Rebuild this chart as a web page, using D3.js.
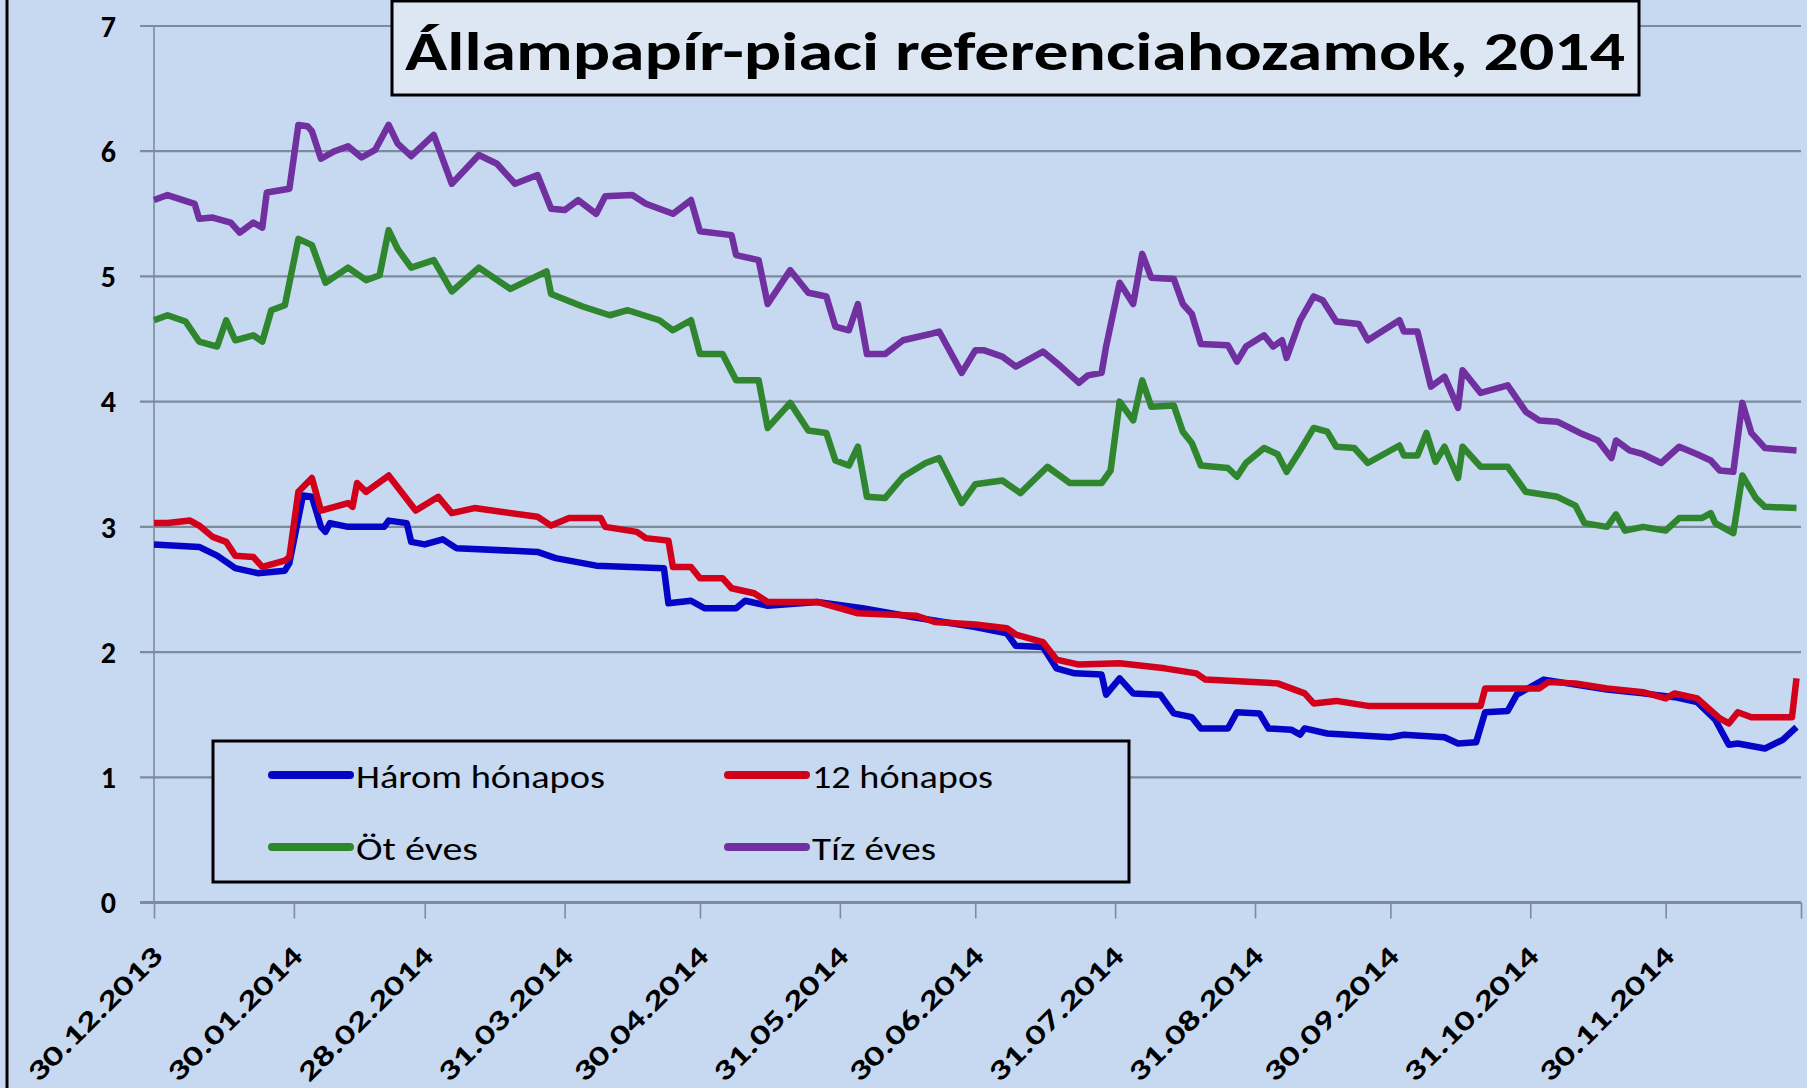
<!DOCTYPE html>
<html>
<head>
<meta charset="utf-8">
<script src="https://cdn.jsdelivr.net/npm/d3@7"></script>
<style>
  body { margin: 0; background: #c6d9f1; }
  svg { display: block; font-family: Carlito, Calibri, Lato, sans-serif; }
</style>
</head>
<body>
<div id="chart"></div>
<script>
// cím, sorozatok, tengely
const chartTitle = 'Állampapír-piaci referenciahozamok, 2014';
const seriesNames = ['Három hónapos', '12 hónapos', 'Öt éves', 'Tíz éves'];
const seriesColors = ['#0505c8', '#d2001a', '#2f862f', '#7030a0'];
const yTicks = [0, 1, 2, 3, 4, 5, 6, 7];
const tickDates = ['2013-12-30', '2014-01-30', '2014-02-28', '2014-03-31', '2014-04-30', '2014-05-31',
  '2014-06-30', '2014-07-31', '2014-08-31', '2014-09-30', '2014-10-31', '2014-11-30', '2014-12-30'];

const haromHonapos = [
  ['2013-12-30', 2.86], ['2014-01-09', 2.84], ['2014-01-13', 2.77], ['2014-01-17', 2.67], ['2014-01-22', 2.63],
  ['2014-01-28', 2.65], ['2014-01-29', 2.71], ['2014-02-01', 3.25], ['2014-02-03', 3.24], ['2014-02-05', 3.00],
  ['2014-02-06', 2.96], ['2014-02-07', 3.03], ['2014-02-11', 3.00], ['2014-02-19', 3.00], ['2014-02-20', 3.05],
  ['2014-02-24', 3.03], ['2014-02-25', 2.88], ['2014-02-28', 2.86], ['2014-03-04', 2.90], ['2014-03-07', 2.83],
  ['2014-03-25', 2.80], ['2014-03-29', 2.75], ['2014-04-07', 2.69], ['2014-04-22', 2.67], ['2014-04-23', 2.39],
  ['2014-04-28', 2.41], ['2014-05-01', 2.35], ['2014-05-08', 2.35], ['2014-05-10', 2.41], ['2014-05-15', 2.37],
  ['2014-05-26', 2.40], ['2014-06-05', 2.35], ['2014-06-16', 2.28], ['2014-06-30', 2.20], ['2014-07-07', 2.15],
  ['2014-07-09', 2.05], ['2014-07-15', 2.04], ['2014-07-18', 1.87], ['2014-07-22', 1.83], ['2014-07-28', 1.82],
  ['2014-07-29', 1.66], ['2014-08-01', 1.79], ['2014-08-04', 1.67], ['2014-08-10', 1.66], ['2014-08-13', 1.51],
  ['2014-08-17', 1.48], ['2014-08-19', 1.39], ['2014-08-25', 1.39], ['2014-08-27', 1.52], ['2014-09-01', 1.51],
  ['2014-09-03', 1.39], ['2014-09-08', 1.38], ['2014-09-10', 1.34], ['2014-09-11', 1.39], ['2014-09-16', 1.35],
  ['2014-09-30', 1.32], ['2014-10-03', 1.34], ['2014-10-12', 1.32], ['2014-10-15', 1.27], ['2014-10-19', 1.28],
  ['2014-10-21', 1.52], ['2014-10-26', 1.53], ['2014-10-28', 1.66], ['2014-11-03', 1.78], ['2014-11-10', 1.74],
  ['2014-11-17', 1.70], ['2014-11-25', 1.67], ['2014-12-02', 1.64], ['2014-12-07', 1.60], ['2014-12-11', 1.46],
  ['2014-12-14', 1.26], ['2014-12-16', 1.27], ['2014-12-22', 1.23], ['2014-12-26', 1.30], ['2014-12-29', 1.40]
];

const tizenketHonapos = [
  ['2013-12-30', 3.03], ['2014-01-02', 3.03], ['2014-01-07', 3.05], ['2014-01-09', 3.01], ['2014-01-12', 2.92],
  ['2014-01-15', 2.88], ['2014-01-17', 2.77], ['2014-01-21', 2.76], ['2014-01-23', 2.68], ['2014-01-28', 2.73],
  ['2014-01-29', 2.76], ['2014-01-31', 3.28], ['2014-02-03', 3.39], ['2014-02-05', 3.13], ['2014-02-11', 3.19],
  ['2014-02-12', 3.16], ['2014-02-13', 3.35], ['2014-02-15', 3.28], ['2014-02-20', 3.41], ['2014-02-26', 3.13],
  ['2014-03-03', 3.24], ['2014-03-06', 3.11], ['2014-03-11', 3.15], ['2014-03-25', 3.08], ['2014-03-28', 3.01],
  ['2014-04-01', 3.07], ['2014-04-08', 3.07], ['2014-04-09', 3.00], ['2014-04-16', 2.96], ['2014-04-18', 2.91],
  ['2014-04-23', 2.89], ['2014-04-24', 2.68], ['2014-04-28', 2.68], ['2014-04-30', 2.59], ['2014-05-05', 2.59],
  ['2014-05-07', 2.51], ['2014-05-12', 2.47], ['2014-05-15', 2.40], ['2014-05-26', 2.40], ['2014-06-04', 2.31],
  ['2014-06-17', 2.29], ['2014-06-21', 2.24], ['2014-06-30', 2.22], ['2014-07-07', 2.19], ['2014-07-09', 2.14],
  ['2014-07-15', 2.08], ['2014-07-18', 1.94], ['2014-07-23', 1.90], ['2014-08-01', 1.91], ['2014-08-11', 1.87],
  ['2014-08-18', 1.83], ['2014-08-20', 1.78], ['2014-09-05', 1.75], ['2014-09-11', 1.67], ['2014-09-13', 1.59],
  ['2014-09-18', 1.61], ['2014-09-25', 1.57], ['2014-10-20', 1.57], ['2014-10-21', 1.71], ['2014-11-02', 1.71],
  ['2014-11-04', 1.76], ['2014-11-10', 1.75], ['2014-11-17', 1.71], ['2014-11-25', 1.68], ['2014-11-30', 1.63],
  ['2014-12-02', 1.67], ['2014-12-07', 1.63], ['2014-12-12', 1.47], ['2014-12-14', 1.43], ['2014-12-16', 1.52],
  ['2014-12-19', 1.48], ['2014-12-28', 1.48], ['2014-12-29', 1.79]
];

const otEves = [
  ['2013-12-30', 4.65], ['2014-01-02', 4.69], ['2014-01-06', 4.64], ['2014-01-09', 4.48], ['2014-01-13', 4.44],
  ['2014-01-15', 4.65], ['2014-01-17', 4.49], ['2014-01-21', 4.53], ['2014-01-23', 4.48], ['2014-01-25', 4.73],
  ['2014-01-28', 4.77], ['2014-01-31', 5.30], ['2014-02-03', 5.25], ['2014-02-06', 4.95], ['2014-02-11', 5.07],
  ['2014-02-15', 4.97], ['2014-02-18', 5.01], ['2014-02-20', 5.37], ['2014-02-22', 5.22], ['2014-02-25', 5.07],
  ['2014-03-02', 5.13], ['2014-03-06', 4.88], ['2014-03-12', 5.07], ['2014-03-19', 4.90], ['2014-03-27', 5.04],
  ['2014-03-28', 4.86], ['2014-04-04', 4.76], ['2014-04-10', 4.69], ['2014-04-14', 4.73], ['2014-04-21', 4.65],
  ['2014-04-24', 4.57], ['2014-04-28', 4.65], ['2014-04-30', 4.38], ['2014-05-05', 4.38], ['2014-05-08', 4.17],
  ['2014-05-13', 4.17], ['2014-05-15', 3.79], ['2014-05-20', 3.99], ['2014-05-24', 3.77], ['2014-05-28', 3.75],
  ['2014-05-30', 3.53], ['2014-06-02', 3.49], ['2014-06-04', 3.64], ['2014-06-06', 3.24], ['2014-06-10', 3.23],
  ['2014-06-14', 3.40], ['2014-06-19', 3.51], ['2014-06-22', 3.55], ['2014-06-27', 3.19], ['2014-06-30', 3.34],
  ['2014-07-06', 3.37], ['2014-07-10', 3.27], ['2014-07-16', 3.48], ['2014-07-21', 3.35], ['2014-07-28', 3.35],
  ['2014-07-30', 3.45], ['2014-08-01', 4.00], ['2014-08-04', 3.85], ['2014-08-06', 4.17], ['2014-08-08', 3.96],
  ['2014-08-13', 3.97], ['2014-08-15', 3.76], ['2014-08-17', 3.67], ['2014-08-19', 3.49], ['2014-08-25', 3.47],
  ['2014-08-27', 3.40], ['2014-08-29', 3.51], ['2014-09-02', 3.63], ['2014-09-05', 3.58], ['2014-09-07', 3.44],
  ['2014-09-10', 3.61], ['2014-09-13', 3.79], ['2014-09-16', 3.76], ['2014-09-18', 3.64], ['2014-09-22', 3.63],
  ['2014-09-25', 3.51], ['2014-10-02', 3.65], ['2014-10-03', 3.57], ['2014-10-06', 3.57], ['2014-10-08', 3.75],
  ['2014-10-10', 3.52], ['2014-10-12', 3.64], ['2014-10-15', 3.39], ['2014-10-16', 3.64], ['2014-10-20', 3.48],
  ['2014-10-26', 3.48], ['2014-10-30', 3.28], ['2014-11-06', 3.24], ['2014-11-10', 3.17], ['2014-11-12', 3.03],
  ['2014-11-17', 3.00], ['2014-11-19', 3.10], ['2014-11-21', 2.97], ['2014-11-25', 3.00], ['2014-11-30', 2.97],
  ['2014-12-03', 3.07], ['2014-12-08', 3.07], ['2014-12-10', 3.11], ['2014-12-11', 3.03], ['2014-12-15', 2.95],
  ['2014-12-17', 3.41], ['2014-12-20', 3.23], ['2014-12-22', 3.16], ['2014-12-29', 3.15]
];

const tizEves = [
  ['2013-12-30', 5.61], ['2014-01-02', 5.65], ['2014-01-08', 5.58], ['2014-01-09', 5.46], ['2014-01-12', 5.47],
  ['2014-01-16', 5.43], ['2014-01-18', 5.35], ['2014-01-21', 5.43], ['2014-01-23', 5.39], ['2014-01-24', 5.67],
  ['2014-01-29', 5.70], ['2014-01-31', 6.21], ['2014-02-02', 6.20], ['2014-02-03', 6.16], ['2014-02-05', 5.94],
  ['2014-02-08', 6.00], ['2014-02-11', 6.04], ['2014-02-14', 5.95], ['2014-02-17', 6.01], ['2014-02-20', 6.21],
  ['2014-02-22', 6.06], ['2014-02-25', 5.96], ['2014-03-02', 6.13], ['2014-03-06', 5.74], ['2014-03-12', 5.97],
  ['2014-03-16', 5.90], ['2014-03-20', 5.74], ['2014-03-25', 5.81], ['2014-03-28', 5.54], ['2014-03-31', 5.53],
  ['2014-04-03', 5.61], ['2014-04-07', 5.50], ['2014-04-09', 5.64], ['2014-04-15', 5.65], ['2014-04-18', 5.58],
  ['2014-04-24', 5.50], ['2014-04-28', 5.61], ['2014-04-30', 5.36], ['2014-05-07', 5.33], ['2014-05-08', 5.17],
  ['2014-05-13', 5.13], ['2014-05-15', 4.78], ['2014-05-20', 5.05], ['2014-05-24', 4.87], ['2014-05-28', 4.84],
  ['2014-05-30', 4.60], ['2014-06-02', 4.57], ['2014-06-04', 4.78], ['2014-06-06', 4.38], ['2014-06-10', 4.38],
  ['2014-06-14', 4.49], ['2014-06-20', 4.54], ['2014-06-22', 4.56], ['2014-06-27', 4.23], ['2014-06-30', 4.41],
  ['2014-07-02', 4.41], ['2014-07-06', 4.36], ['2014-07-09', 4.28], ['2014-07-15', 4.40], ['2014-07-19', 4.28],
  ['2014-07-23', 4.15], ['2014-07-25', 4.21], ['2014-07-28', 4.23], ['2014-07-29', 4.44], ['2014-08-01', 4.95],
  ['2014-08-04', 4.78], ['2014-08-06', 5.18], ['2014-08-08', 4.99], ['2014-08-13', 4.98], ['2014-08-15', 4.78],
  ['2014-08-17', 4.70], ['2014-08-19', 4.46], ['2014-08-25', 4.45], ['2014-08-27', 4.32], ['2014-08-29', 4.44],
  ['2014-09-02', 4.53], ['2014-09-04', 4.44], ['2014-09-06', 4.49], ['2014-09-07', 4.35], ['2014-09-10', 4.65],
  ['2014-09-13', 4.84], ['2014-09-15', 4.81], ['2014-09-18', 4.64], ['2014-09-23', 4.62], ['2014-09-25', 4.49],
  ['2014-10-02', 4.65], ['2014-10-03', 4.56], ['2014-10-06', 4.56], ['2014-10-09', 4.12], ['2014-10-12', 4.20],
  ['2014-10-15', 3.95], ['2014-10-16', 4.25], ['2014-10-20', 4.07], ['2014-10-26', 4.13], ['2014-10-30', 3.92],
  ['2014-11-02', 3.85], ['2014-11-06', 3.84], ['2014-11-11', 3.75], ['2014-11-15', 3.69], ['2014-11-18', 3.55],
  ['2014-11-19', 3.69], ['2014-11-22', 3.61], ['2014-11-25', 3.58], ['2014-11-29', 3.51], ['2014-12-03', 3.64],
  ['2014-12-07', 3.58], ['2014-12-10', 3.53], ['2014-12-12', 3.45], ['2014-12-15', 3.44], ['2014-12-17', 3.99],
  ['2014-12-19', 3.75], ['2014-12-22', 3.63], ['2014-12-29', 3.61]
];

const seriesData = [haromHonapos, tizenketHonapos, otEves, tizEves];

const width = 1807, height = 1088;
const parseTime = d3.timeParse('%Y-%m-%d');
const fmt = d3.timeFormat('%d.%m.%Y');
const gridColor = '#7d8b9b';

const svg = d3.select('#chart').append('svg')
  .attr('width', width).attr('height', height)
  .attr('viewBox', '0 0 ' + width + ' ' + height);

// háttér + a diagramterület bal szegélye
svg.append('rect').attr('x', 0).attr('y', 0).attr('width', width).attr('height', height).attr('fill', '#c6d9f1');
svg.append('rect').attr('x', 7).attr('y', -20).attr('width', width + 40).attr('height', height + 40)
  .attr('fill', '#c6d9f1').attr('stroke', '#000').attr('stroke-width', 3);

const x = d3.scaleTime()
  .domain([parseTime('2013-12-30'), parseTime('2014-12-30')])
  .range([154, 1801]);
const y = d3.scaleLinear()
  .domain([0, 7])
  .range([902.5, 26]);

// rácsvonalak
svg.append('g').selectAll('line')
  .data(yTicks)
  .enter()
  .append('line')
  .attr('x1', x.range()[0] - 14)
  .attr('x2', x.range()[1])
  .attr('y1', d => y(d))
  .attr('y2', d => y(d))
  .attr('stroke', gridColor)
  .attr('stroke-width', d => d === 0 ? 3 : 2.2);

// y tengely
svg.append('line')
  .attr('x1', x.range()[0]).attr('x2', x.range()[0])
  .attr('y1', y(7)).attr('y2', y(0))
  .attr('stroke', gridColor).attr('stroke-width', 1.6);

svg.append('g').selectAll('text')
  .data(yTicks)
  .enter()
  .append('text')
  .attr('x', 116)
  .attr('y', d => y(d))
  .attr('dy', '0.36em')
  .attr('text-anchor', 'end')
  .attr('font-size', 30)
  .attr('font-weight', 'bold')
  .text(d => d);

// x tengely, havi osztás
const lastTick = tickDates[tickDates.length - 1];
const xAxis = d3.axisBottom(x)
  .tickValues(tickDates.map(parseTime))
  .tickSize(16)
  .tickSizeOuter(0)
  .tickFormat(d => fmt(d) === fmt(parseTime(lastTick)) ? '' : fmt(d));

const gx = svg.append('g')
  .attr('transform', 'translate(0,' + y(0) + ')')
  .call(xAxis);
gx.select('.domain').remove();
gx.selectAll('.tick line').attr('stroke', gridColor).attr('stroke-width', 1.6);
gx.selectAll('.tick text')
  .attr('x', 0).attr('y', 0).attr('dy', 0)
  .attr('transform', 'translate(10,55) rotate(-45)')
  .attr('text-anchor', 'end')
  .attr('font-family', 'Carlito, Calibri, Lato, sans-serif')
  .attr('font-size', 28)
  .attr('font-weight', 'bold')
  .attr('fill', '#000')
  .attr('textLength', 178)
  .attr('lengthAdjust', 'spacingAndGlyphs');

// görbék
const line = d3.line()
  .x(d => x(parseTime(d[0])))
  .y(d => y(d[1]));

svg.append('g').selectAll('path')
  .data(seriesData)
  .enter()
  .append('path')
  .attr('d', d => line(d))
  .attr('fill', 'none')
  .attr('stroke', (d, i) => seriesColors[i])
  .attr('stroke-width', 6.5)
  .attr('stroke-linejoin', 'round');

// jelmagyarázat
const legend = svg.append('g');
legend.append('rect')
  .attr('x', 213).attr('y', 741).attr('width', 916).attr('height', 141)
  .attr('fill', '#c6d9f1').attr('stroke', '#000').attr('stroke-width', 3);

const legendItems = seriesNames.map((name, i) => ({
  name: name,
  color: seriesColors[i],
  lx: i % 2 === 0 ? 272 : 728,
  ly: i < 2 ? 775 : 847,
  textLen: [249, 181, 122, 124][i]
}));

const li = legend.selectAll('g.item')
  .data(legendItems)
  .enter()
  .append('g')
  .attr('class', 'item');
li.append('line')
  .attr('x1', d => d.lx).attr('x2', d => d.lx + 78)
  .attr('y1', d => d.ly).attr('y2', d => d.ly)
  .attr('stroke', d => d.color)
  .attr('stroke-width', 8)
  .attr('stroke-linecap', 'round');
li.append('text')
  .attr('x', d => d.lx + 84)
  .attr('y', d => d.ly + 13)
  .attr('font-size', 32)
  .attr('textLength', d => d.textLen)
  .attr('lengthAdjust', 'spacingAndGlyphs')
  .text(d => d.name);

// cím
svg.append('rect')
  .attr('x', 392).attr('y', 1).attr('width', 1247).attr('height', 94)
  .attr('fill', '#dde7f3').attr('stroke', '#000').attr('stroke-width', 3);
svg.append('text')
  .attr('x', 1015).attr('y', 70)
  .attr('text-anchor', 'middle')
  .attr('font-size', 54)
  .attr('font-weight', 'bold')
  .attr('textLength', 1220)
  .attr('lengthAdjust', 'spacingAndGlyphs')
  .text(chartTitle);
</script>
</body>
</html>
